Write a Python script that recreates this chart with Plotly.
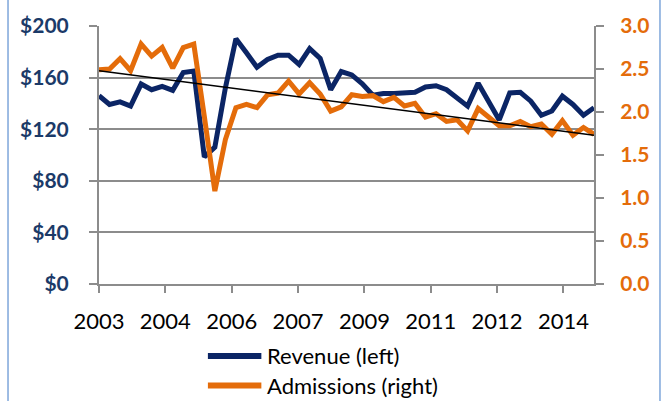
import plotly.graph_objects as go

# ---------------- data ----------------
revenue = [146.0, 139.2, 141.2, 137.9, 155.0, 150.6, 153.2, 150.1, 163.9, 165.1,
           98.5, 106.1, 152.0, 190.1, 179.2, 168.0, 174.0, 177.4, 177.4, 170.2,
           182.4, 174.8, 150.6, 164.7, 162.1, 155.2, 146.3, 147.6, 147.6, 148.1,
           148.6, 152.7, 153.7, 150.6, 144.3, 137.9, 155.7, 141.0, 127.2, 148.1,
           148.6, 141.7, 130.8, 134.1, 145.6, 139.2, 130.8, 136.6]
admissions = [2.49, 2.50, 2.62, 2.48, 2.79, 2.65, 2.75, 2.51, 2.75, 2.79,
              1.95, 1.08, 1.68, 2.05, 2.09, 2.05, 2.20, 2.22, 2.36, 2.21,
              2.34, 2.21, 2.01, 2.06, 2.20, 2.18, 2.19, 2.12, 2.17, 2.07,
              2.10, 1.94, 1.98, 1.89, 1.91, 1.78, 2.04, 1.94, 1.84, 1.84,
              1.89, 1.83, 1.86, 1.74, 1.90, 1.73, 1.82, 1.74]
trend_ends = [2.48, 1.73]          # admissions trendline, first and last period
x_labels = ["2003", "2004", "2006", "2007", "2009", "2011", "2012", "2014"]
legend_names = ["Revenue (left)", "Admissions (right)"]

periods = list(range(len(revenue)))
tick_step = 6.3
tick_pos = [k * tick_step for k in range(len(x_labels))]

NAVY = "#0B2565"
ORANGE = "#E46C0A"
GRID = "#8C8C8C"
LEFT_TXT = "#1B3A68"

fig = go.Figure()
fig.add_trace(go.Scatter(x=periods, y=revenue, mode="lines", name=legend_names[0],
                         line=dict(color=NAVY, width=5), yaxis="y"))
fig.add_trace(go.Scatter(x=periods, y=admissions, mode="lines", name=legend_names[1],
                         line=dict(color=ORANGE, width=5), yaxis="y2"))
fig.add_trace(go.Scatter(x=[periods[0], periods[-1]], y=trend_ends, mode="lines",
                         line=dict(color="black", width=1.5), yaxis="y2",
                         showlegend=False, hoverinfo="skip"))

fig.update_layout(
    width=662, height=401,
    margin=dict(l=99, r=68, t=22, b=117),
    paper_bgcolor="white", plot_bgcolor="white",
    showlegend=False,
    font=dict(family="Lato", size=22, color="black"),
    xaxis=dict(range=[0, periods[-1]], tickvals=tick_pos, ticktext=x_labels,
               showgrid=False, zeroline=False, showline=True, linecolor=GRID,
               linewidth=2, ticks="outside", ticklen=7, tickwidth=2, tickcolor=GRID,
               ticklabelstandoff=10,
               tickfont=dict(family="Lato", size=22, color="black")),
    yaxis=dict(range=[0, 200], dtick=40, tickprefix="$", showgrid=True,
               gridcolor=GRID, gridwidth=2, zeroline=False, showline=True,
               linecolor=GRID, linewidth=2, ticks="outside", ticklen=8,
               tickwidth=2, tickcolor=GRID, ticklabelstandoff=16,
               tickfont=dict(family="Lato", size=21, color=LEFT_TXT, weight="bold")),
    yaxis2=dict(range=[0, 3], dtick=0.5, tickformat=".1f", overlaying="y",
                side="right", showgrid=False, zeroline=False, showline=True,
                linecolor=GRID, linewidth=2, ticks="outside", ticklen=8,
                tickwidth=2, tickcolor=GRID, ticklabelstandoff=12,
                tickfont=dict(family="Lato", size=21, color=ORANGE, weight="bold")),
)

# frame of the chart area (left/right edges visible)
for xp in (-0.1838, 1.1333):
    fig.add_shape(type="line", xref="paper", yref="paper", x0=xp, x1=xp,
                  y0=-0.6, y1=1.3, line=dict(color="#7EA6DA", width=1.5))

# legend drawn below the plot
legend_rows = [(-0.279, NAVY), (-0.393, ORANGE)]
for name, (yp, col) in zip(legend_names, legend_rows):
    fig.add_shape(type="line", xref="paper", yref="paper", x0=0.220, x1=0.328,
                  y0=yp, y1=yp, line=dict(color=col, width=6))
    fig.add_annotation(text=name, xref="paper", yref="paper", x=0.336, y=yp,
                       xanchor="left", yanchor="middle", showarrow=False,
                       font=dict(family="Lato", size=22, color="black"))

fig.write_html("out.html", config={"displayModeBar": False},
               post_script="document.body.style.margin='0';document.body.style.overflow='hidden';")
